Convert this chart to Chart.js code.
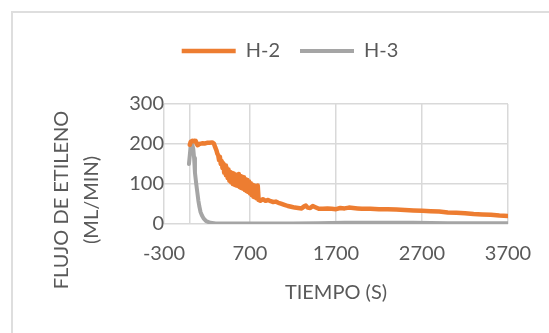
<!DOCTYPE html>
<html>
<head>
<meta charset="utf-8">
<script src="https://cdn.jsdelivr.net/npm/chart.js@4.4.0/dist/chart.umd.min.js"></script>
<style>
  html, body { margin: 0; padding: 0; background: #fff; overflow: hidden; }
  #frame { position: absolute; left: 11px; top: 11px; width: 620px; height: 400px; border: 2px solid #dedede; }
  #wrap { position: absolute; left: 0; top: 0; width: 580px; height: 333px; }
</style>
</head>
<body>
<div id="frame"></div>
<div id="wrap"><canvas id="chart"></canvas></div>
<script>
// H-2 run: time (s) and ethylene flow (mL/min)
const h2Time = [0, 10, 20, 30, 40, 50, 60, 70, 80, 90, 100, 110, 130, 150, 170, 200, 230, 260, 280, 295, 310, 320,
  330, 340, 350, 360, 370, 380, 390, 400, 410, 420, 430, 440, 450, 460, 470, 480, 490, 500, 510, 520, 530, 540,
  550, 560, 570, 580, 590, 600, 610, 620, 630, 640, 650, 660, 670, 680, 690, 700, 710, 720, 730, 740, 750, 760,
  770, 780, 790, 800, 820, 850, 880, 910, 940, 970, 1000, 1030, 1060, 1100, 1140, 1180, 1220, 1260, 1300, 1330,
  1350, 1370, 1400, 1430, 1460, 1500, 1550, 1600, 1650, 1700, 1750, 1800, 1850, 1900, 1950, 2000, 2100, 2200,
  2300, 2400, 2500, 2600, 2700, 2800, 2900, 3000, 3100, 3200, 3300, 3400, 3500, 3600, 3700];
const h2Flow = [198, 205, 207, 208, 207, 208, 206, 207, 201, 197, 198, 200, 201, 202, 201, 203, 203, 204, 201, 192, 184, 176,
  172, 160, 168, 150, 158, 140, 152, 128, 146, 122, 140, 115, 136, 108, 130, 104, 128, 100, 126, 98, 124, 96,
  122, 95, 125, 92, 120, 90, 118, 88, 117, 85, 112, 82, 110, 80, 106, 76, 102, 72, 98, 68, 96, 66,
  92, 64, 96, 60, 58, 62, 58, 60, 57, 55, 56, 53, 51, 48, 45, 43, 41, 40, 39, 44,
  46, 41, 40, 45, 42, 38, 38, 39, 38, 37, 40, 39, 41, 40, 39, 38, 38, 37,
  37, 36, 35, 34, 33, 32, 31, 29, 28, 27, 25, 24, 23, 21, 20];

// H-3 run
const h3Time = [-10, 0, 10, 20, 30, 40, 50, 60, 75, 87, 100, 110, 125, 140, 160, 190, 240, 300, 500, 800, 1200,
  1500, 1800, 2200, 2600, 3000, 3400, 3700];
const h3Flow = [150, 172, 195, 201, 198, 188, 165, 128, 100, 80, 58, 45, 30, 22, 14, 7, 3, 1, 1, 1, 1,
  2, 3, 3, 3, 2, 2, 2];

const seriesNames = ['H-2', 'H-3'];
const xTicks = [-300, 0, 700, 1700, 2700, 3700];
const xTickLabels = ['-300', '', '700', '1700', '2700', '3700'];
const yTitleLines = ['FLUJO DE ETILENO', '(ML/MIN)'];
const xTitle = 'TIEMPO (S)';

const TEXT = '#595959';
const GRID = '#d9d9d9';

Chart.defaults.font.family = 'Lato, "Open Sans", sans-serif';
Chart.defaults.font.size = 20;
Chart.defaults.color = TEXT;

function pairs(xs, ys) {
  return xs.map((x, i) => ({ x: x, y: ys[i] }));
}

// push the plot down below the legend
const legendGap = {
  id: 'legendGap',
  afterInit(chart) {
    const lg = chart.legend;
    const fit = lg.fit;
    lg.fit = function () {
      fit.call(this);
      this.height += 33;
    };
  }
};

// two-line rotated y title, drawn by hand so it can sit lower than the axis middle
const yTitle = {
  id: 'yTitle',
  afterDraw(chart) {
    const ctx = chart.ctx;
    ctx.save();
    ctx.fillStyle = TEXT;
    ctx.font = '20px Lato, "Open Sans", sans-serif';
    ctx.textAlign = 'center';
    ctx.textBaseline = 'middle';
    yTitleLines.forEach((line, i) => {
      ctx.save();
      ctx.translate(62 + i * 30, 200);
      ctx.rotate(-Math.PI / 2);
      ctx.fillText(line, 0, 0);
      ctx.restore();
    });
    ctx.restore();
  }
};

new Chart(document.getElementById('chart'), {
  type: 'line',
  data: {
    datasets: [
      {
        label: seriesNames[0],
        data: pairs(h2Time, h2Flow),
        borderColor: '#ed7d31',
        backgroundColor: '#ed7d31',
        borderWidth: 4.5,
        borderCapStyle: 'round',
        borderJoinStyle: 'round',
        pointRadius: 0,
        tension: 0
      },
      {
        label: seriesNames[1],
        data: pairs(h3Time, h3Flow),
        borderColor: '#a5a5a5',
        backgroundColor: '#a5a5a5',
        borderWidth: 4,
        borderCapStyle: 'round',
        borderJoinStyle: 'round',
        pointRadius: 0,
        tension: 0
      }
    ]
  },
  options: {
    responsive: true,
    maintainAspectRatio: false,
    animation: false,
    layout: { padding: { top: 21, left: 72, right: 72, bottom: 28 } },
    plugins: {
      tooltip: { enabled: false },
      legend: {
        position: 'top',
        labels: {
          usePointStyle: true,
          pointStyle: 'line',
          pointStyleWidth: 54,
          padding: 20,
          color: TEXT,
          font: { size: 20 }
        }
      }
    },
    scales: {
      x: {
        type: 'linear',
        min: -300,
        max: 3700,
        afterBuildTicks(axis) {
          axis.ticks = xTicks.map(v => ({ value: v }));
        },
        ticks: {
          padding: 18,
          maxRotation: 0,
          autoSkip: false,
          callback: (v) => xTickLabels[xTicks.indexOf(v)]
        },
        grid: { color: GRID, lineWidth: 1.5, drawTicks: false },
        border: { display: false },
        title: { display: true, text: xTitle, padding: { top: -3, bottom: 0 } }
      },
      y: {
        min: 0,
        max: 300,
        afterFit(axis) {
          axis.width = 92;
        },
        ticks: { stepSize: 100, padding: 0 },
        grid: { color: GRID, lineWidth: 1.5, drawTicks: false },
        border: { display: false }
      }
    }
  },
  plugins: [legendGap, yTitle]
});
</script>
</body>
</html>
